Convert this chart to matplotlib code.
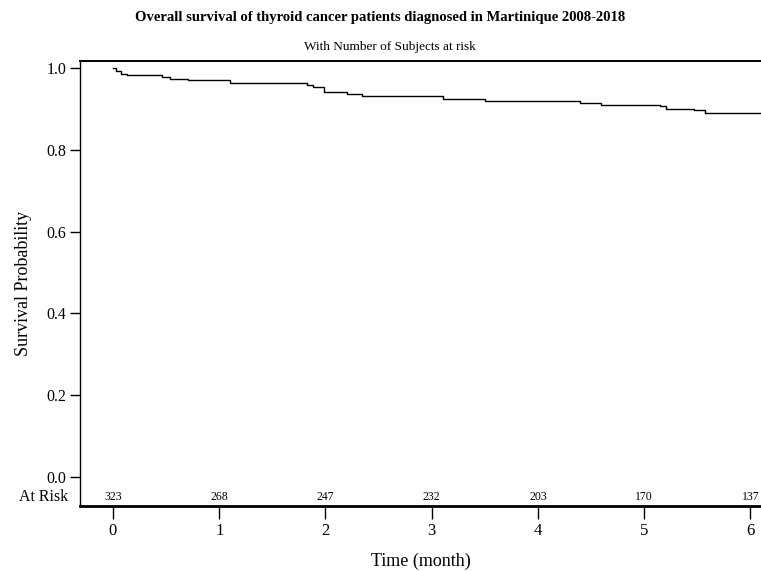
import numpy as np
import matplotlib
matplotlib.use("Agg")
import matplotlib.pyplot as plt
from matplotlib import transforms

plt.rcParams['font.family'] = ['Liberation Serif', 'DejaVu Serif']

# Kaplan-Meier estimate
times = [0, 0.03, 0.08, 0.13, 0.46, 0.54, 0.71, 1.10, 1.83, 1.88, 1.99, 2.20,
         2.34, 3.11, 3.50, 4.40, 4.59, 5.15, 5.21, 5.47, 5.57, 6.10]
surv = [1.000, 0.992, 0.986, 0.982, 0.978, 0.974, 0.971, 0.963, 0.958, 0.954,
        0.941, 0.936, 0.932, 0.925, 0.920, 0.915, 0.910, 0.907, 0.900, 0.896,
        0.889, 0.889]

risk_times = [0, 1, 2, 3, 4, 5, 6]
at_risk = [323, 268, 247, 232, 203, 170, 137]

fig = plt.figure(figsize=(7.61, 5.71), dpi=100)
ax = fig.add_axes([80/761, 1 - 506/571, 1 - 80/761, (506 - 61)/571])

ax.step(times, surv, where='post', color='black', lw=1.0)

ax.set_xlim(-0.31, 6.10)
ax.set_ylim(-0.071, 1.017)

ax.set_yticks([0, 0.2, 0.4, 0.6, 0.8, 1.0])
ax.set_yticklabels(['0.0', '0.2', '0.4', '0.6', '0.8', '1.0'])
ax.set_xticks(risk_times)
ax.tick_params(axis='y', direction='out', length=7, width=1, labelsize=11.5, pad=3)
ax.tick_params(axis='x', direction='out', length=9, width=1, labelsize=12, pad=3)

ax.spines['right'].set_visible(False)
ax.spines['bottom'].set_linewidth(2)
ax.spines['top'].set_linewidth(1.4)
ax.spines['left'].set_linewidth(1)

# number at risk row inside the plot area
for t, n in zip(risk_times, at_risk):
    ax.text(t, -0.049, str(n), ha='center', va='center', fontsize=8.5)
trans = transforms.blended_transform_factory(fig.transFigure, ax.transData)
ax.text(68/761, -0.049, 'At Risk', ha='right', va='center', fontsize=11.5,
        transform=trans)

ax.set_ylabel('Survival Probability', fontsize=13, labelpad=10)
ax.set_xlabel('Time (month)', fontsize=13, labelpad=10)

fig.text(0.5, 1 - 18/571, 'Overall survival of thyroid cancer patients diagnosed in Martinique 2008-2018',
         ha='center', va='center', fontsize=10.5, fontweight='bold')
fig.text(390/761, 1 - 47/571, 'With Number of Subjects at risk',
         ha='center', va='center', fontsize=9.5)

fig.savefig('out.png', dpi=100)
